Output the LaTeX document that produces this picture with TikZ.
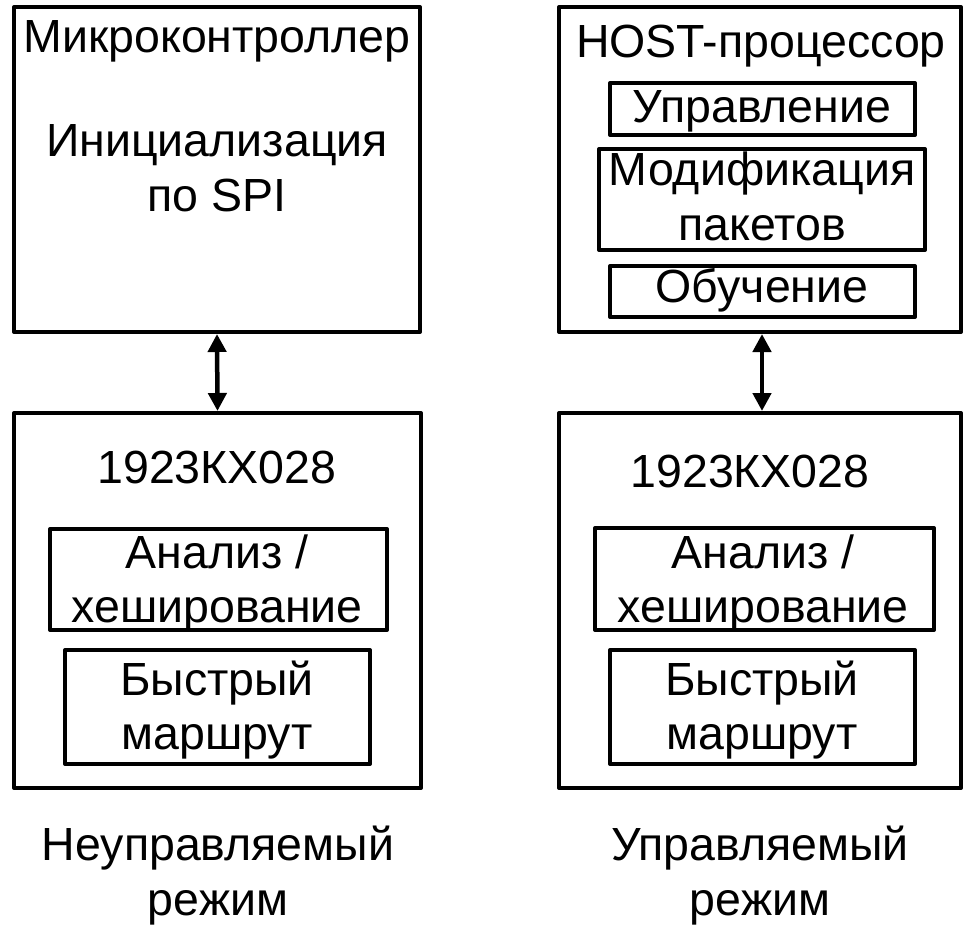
\documentclass[tikz,border=0pt]{standalone}
\usepackage{fontspec}
\setmainfont{Liberation Sans}
\usetikzlibrary{arrows.meta}
\tikzset{
  blk/.style={draw, line width=4pt, rectangle, inner sep=0pt, line join=round},
  wtxt/.style={font=\fontsize{46.5}{55}\selectfont, align=center, anchor=base, inner sep=0pt},
  btxt/.style={font=\fontsize{46.5}{54}\selectfont, align=center, anchor=base, inner sep=0pt},
  link/.style={line width=4.5pt, {Triangle[length=18pt,width=18pt]}-{Triangle[length=18pt,width=18pt]}}
}
\begin{document}
\begin{tikzpicture}[x=1pt,y=-1pt]
\useasboundingbox (0,0) rectangle (964,924);
% left column
\node[blk, minimum width=406pt, minimum height=325pt] (ltop) at (217,169.5) {};
\node[blk, minimum width=407pt, minimum height=375pt] (lbot) at (217.5,600.5) {};
\node[blk, minimum width=337pt, minimum height=101pt] (lana) at (218.5,579.5) {};
\node[blk, minimum width=305pt, minimum height=114pt] (lfast) at (217.5,707) {};
% right column
\node[blk, minimum width=402pt, minimum height=325pt] (rtop) at (760,169.5) {};
\node[blk, minimum width=402pt, minimum height=375pt] (rbot) at (760,600.5) {};
\node[blk, minimum width=305pt, minimum height=52pt] (rctl) at (762.5,109) {};
\node[blk, minimum width=326pt, minimum height=101pt] (rmod) at (762,199.5) {};
\node[blk, minimum width=305pt, minimum height=51pt] (rlearn) at (762.5,291.5) {};
\node[blk, minimum width=339pt, minimum height=102pt] (rana) at (764.5,579) {};
\node[blk, minimum width=305pt, minimum height=114pt] (rfast) at (762.5,707) {};
% texts (anchor base = baseline of last line)
\node[wtxt] (tmc) at (217,52) {Микроконтроллер};
\node[wtxt] (tinit) at (217,211) {Инициализация\\по SPI};
\node[wtxt] (thost) at (761,57) {HOST-процессор};
\node[wtxt] (tctl) at (762,122) {Управление};
\node[wtxt] (tmod) at (762,240) {Модификация\\пакетов};
\node[wtxt] (tlearn) at (762,302) {Обучение};
\node[btxt] (lchip) at (217,483) {1923КХ028};
\node[btxt] (rchip) at (750,487) {1923КХ028};
\node[btxt] (tlana) at (217,622) {Анализ /\\хеширование};
\node[btxt] (trana) at (763,622) {Анализ /\\хеширование};
\node[btxt] (tlfast) at (217,749) {Быстрый\\маршрут};
\node[btxt] (trfast) at (762,749) {Быстрый\\маршрут};
\node[wtxt] (lmode) at (218,915) {Неуправляемый\\режим};
\node[wtxt] (rmode) at (760,915) {Управляемый\\режим};
% connectors
\draw[link] (ltop.south) -- (lbot.north);
\draw[link] ([xshift=2pt]rtop.south) -- ([xshift=2pt]rbot.north);
\end{tikzpicture}
\end{document}
